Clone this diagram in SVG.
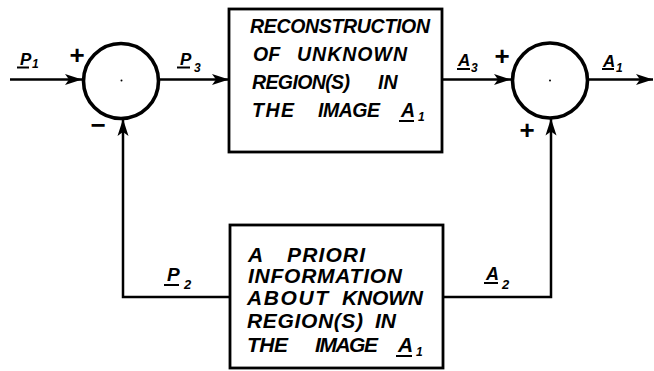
<svg xmlns="http://www.w3.org/2000/svg" width="654" height="371" viewBox="0 0 654 371">
<style>
.ln{fill:none;stroke:#000;stroke-width:2.5}
.box{fill:#fff;stroke:#000;stroke-width:2.8}
.sum{fill:#fff;stroke:#000;stroke-width:3.6}
.t{font-family:"Liberation Sans",Arial,sans-serif;font-style:italic;fill:#000}
.bt{font-size:19.5px;font-weight:bold}
.bt2{font-size:21px;font-weight:bold}
.lab{font-size:17px;font-weight:bold}
.sub{font-size:12px;font-weight:bold}
.sg{font-family:"Liberation Sans",Arial,sans-serif;font-size:26px;font-weight:bold;fill:#000}
.ul{stroke:#000;stroke-width:2}
</style>
<defs>
<marker id="ah" markerUnits="userSpaceOnUse" markerWidth="18" markerHeight="12" refX="17" refY="6" orient="auto">
<path d="M0,0.5 L17,6 L0,11.5 L4,6 Z" fill="#000"/>
</marker>
</defs>
<g id="connectors">
<path class="ln" d="M10,79.5 H82" marker-end="url(#ah)"/>
<path class="ln" d="M159,79.5 H229" marker-end="url(#ah)"/>
<path class="ln" d="M442,79.5 H511" marker-end="url(#ah)"/>
<path class="ln" d="M589,79.5 H653" marker-end="url(#ah)"/>
<path class="ln" d="M230,297 H123 V119" marker-end="url(#ah)"/>
<path class="ln" d="M443,297 H551 V118.5" marker-end="url(#ah)"/>
</g>
<g id="sum1">
<circle class="sum" cx="121" cy="81" r="37.5"/>
<circle cx="121.5" cy="80.5" r="1" fill="#000"/>
<text class="sg" x="77" y="64" text-anchor="middle">+</text>
<text class="sg" x="98" y="134" text-anchor="middle">−</text>
</g>
<g id="sum2">
<circle class="sum" cx="550" cy="80.5" r="37.5"/>
<circle cx="550" cy="80.5" r="1" fill="#000"/>
<text class="sg" x="502" y="65" text-anchor="middle">+</text>
<text class="sg" x="527" y="139" text-anchor="middle">+</text>
</g>
<g id="box1">
<rect class="box" x="229" y="9" width="213" height="143"/>
<text class="t bt" x="250" y="33" textLength="180" lengthAdjust="spacing">RECONSTRUCTION</text>
<text class="t bt" x="253" y="61">OF</text>
<text class="t bt" x="297" y="61" textLength="110" lengthAdjust="spacing">UNKNOWN</text>
<text class="t bt" x="252" y="89" textLength="98" lengthAdjust="spacing">REGION(S)</text>
<text class="t bt" x="378" y="89">IN</text>
<text class="t bt" x="252" y="117" textLength="42" lengthAdjust="spacing">THE</text>
<text class="t bt" x="318" y="117" textLength="62" lengthAdjust="spacing">IMAGE</text>
<text class="t bt" x="401" y="117">A</text>
<line class="ul" x1="399" y1="121" x2="414" y2="121"/>
<text class="t sub" x="418" y="121">1</text>
</g>
<g id="box2">
<rect class="box" x="230" y="225" width="213" height="143"/>
<text class="t bt2" x="248" y="262">A</text>
<text class="t bt2" x="287" y="262" textLength="78" lengthAdjust="spacing">PRIORI</text>
<text class="t bt2" x="248" y="283" textLength="154" lengthAdjust="spacing">INFORMATION</text>
<text class="t bt2" x="247" y="305" textLength="81" lengthAdjust="spacing">ABOUT</text>
<text class="t bt2" x="342" y="305" textLength="81" lengthAdjust="spacing">KNOWN</text>
<text class="t bt2" x="247" y="328" textLength="116" lengthAdjust="spacing">REGION(S)</text>
<text class="t bt2" x="375" y="328">IN</text>
<text class="t bt2" x="247" y="352" textLength="41" lengthAdjust="spacing">THE</text>
<text class="t bt2" x="315" y="352" textLength="63" lengthAdjust="spacing">IMAGE</text>
<text class="t bt2" x="398" y="352">A</text>
<line class="ul" x1="396" y1="356" x2="412" y2="356"/>
<text class="t sub" x="416" y="356">1</text>
</g>
<g id="labels">
<text class="t lab" x="20" y="65">P</text>
<line class="ul" x1="17" y1="67.5" x2="29" y2="67.5"/>
<text class="t sub" x="32" y="68">1</text>
<text class="t lab" x="180" y="65">P</text>
<line class="ul" x1="177" y1="67.5" x2="190" y2="67.5"/>
<text class="t sub" x="194" y="72">3</text>
<text class="t lab" x="458" y="66">A</text>
<line class="ul" x1="457" y1="69" x2="470" y2="69"/>
<text class="t sub" x="471" y="72">3</text>
<text class="t lab" x="603" y="67">A</text>
<line class="ul" x1="602" y1="69" x2="614" y2="69"/>
<text class="t sub" x="616" y="72">1</text>
<text class="t lab" x="167" y="281" style="font-size:19px">P</text>
<line class="ul" x1="164" y1="285" x2="179" y2="285"/>
<text class="t sub" x="184" y="289" style="font-size:13px">2</text>
<text class="t lab" x="486" y="280" style="font-size:18px">A</text>
<line class="ul" x1="484" y1="283" x2="498" y2="283"/>
<text class="t sub" x="502" y="289" style="font-size:13px">2</text>
</g>
</svg>
